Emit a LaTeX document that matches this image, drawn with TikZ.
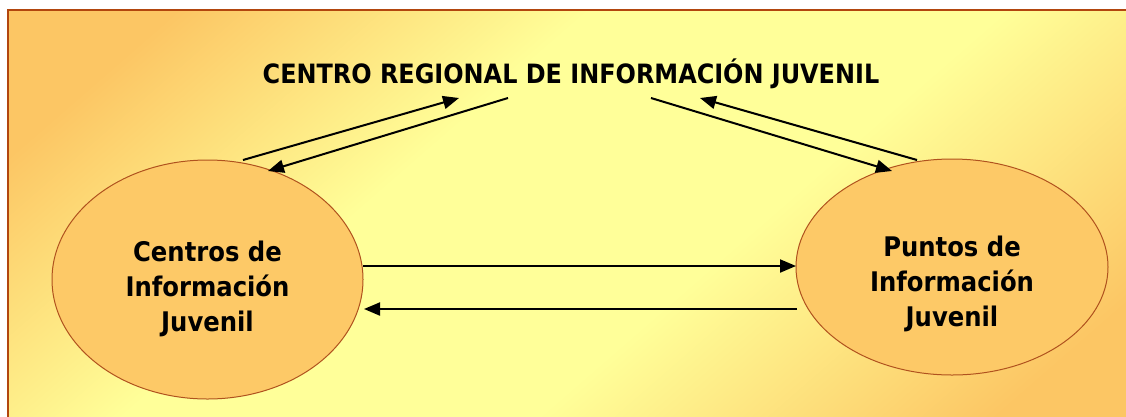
\documentclass[tikz,border=0pt]{standalone}
\usepackage{fontspec}
\setmainfont{DejaVu Sans Condensed}[BoldFont={DejaVu Sans Condensed Bold}]
\usetikzlibrary{arrows.meta,shapes.geometric}
\definecolor{bgorange}{RGB}{252,198,100}
\definecolor{bgyellow}{RGB}{255,255,153}
\definecolor{ellfill}{RGB}{253,201,103}
\definecolor{ellline}{RGB}{176,82,30}
\definecolor{frameline}{RGB}{178,70,14}
\pgfdeclarehorizontalshading{bgshade}{100bp}{color(0bp)=(bgorange); color(22bp)=(bgorange); color(40bp)=(bgyellow); color(58bp)=(bgyellow); color(78bp)=(bgorange); color(100bp)=(bgorange)}
\tikzset{
  bubble/.style={ellipse, draw=ellline, line width=1pt, fill=ellfill, inner sep=0pt},
  bubbletext/.style={font=\bfseries\fontsize{27}{35}\selectfont, align=center, inner sep=0pt},
  flow/.style={line width=2pt, -{Triangle[length=16pt,width=13pt]}},
  titletext/.style={font=\bfseries\fontsize{26.6}{30}\selectfont, inner sep=0pt}
}
\begin{document}
\begin{tikzpicture}[x=1pt,y=-1pt]
\useasboundingbox (0,0) rectangle (1126,416);
\fill[white] (0,0) rectangle (1126,416);
\begin{scope}
\clip (0,0) rectangle (1126,416);
\shade[shading=bgshade, shading angle=-49] (8,10) rectangle (1150,430);
\draw[frameline, line width=2.2pt] (8,10) rectangle (1150,430);
\end{scope}
\node[titletext] (T) at (571,74) {CENTRO REGIONAL DE INFORMACIÓN JUVENIL};
\node[bubble, minimum width=311pt, minimum height=239pt] (L) at (207.5,279.5) {};
\node[bubbletext] (Ltxt) at (207.5,288.5) {Centros de\\Información\\Juvenil};
\node[bubble, minimum width=312pt, minimum height=216pt] (R) at (952,267) {};
\node[bubbletext] (Rtxt) at (952,284) {Puntos de\\Información\\Juvenil};
% endpoints
\coordinate (l1s) at (243,160);
\coordinate (l1e) at (459,98);
\coordinate (l2s) at (508,98);
\coordinate (l2e) at (268,171);
\coordinate (r1s) at (651,98);
\coordinate (r1e) at (892,171);
\coordinate (r2s) at (917,160);
\coordinate (r2e) at (700,98);
\coordinate (h1s) at (363,266);
\coordinate (h1e) at (796,266);
\coordinate (h2s) at (797,309);
\coordinate (h2e) at (364,309);
\draw[flow] (l1s) -- (l1e);
\draw[flow] (l2s) -- (l2e);
\draw[flow] (r1s) -- (r1e);
\draw[flow] (r2s) -- (r2e);
\draw[flow] (h1s) -- (h1e);
\draw[flow] (h2s) -- (h2e);
\end{tikzpicture}
\end{document}
